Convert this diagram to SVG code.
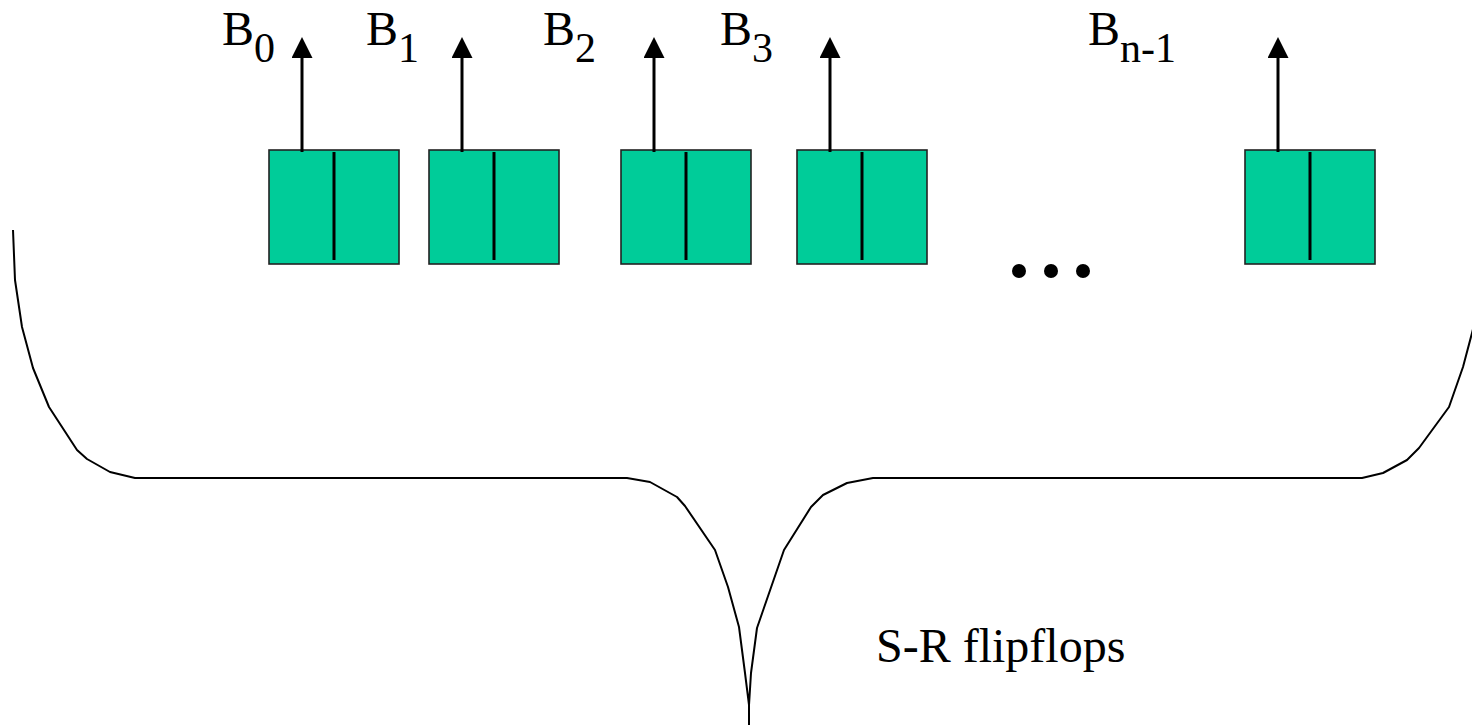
<svg xmlns="http://www.w3.org/2000/svg" width="1472" height="725" viewBox="0 0 1472 725">
<style>
.ff{fill:#00cc99;stroke:#222;stroke-width:1.6}
.div{stroke:#000;stroke-width:3}
.wire{stroke:#000;stroke-width:3}
.lbl{font-family:"Liberation Serif","Times New Roman",serif;font-size:48px;fill:#000}
.sub{font-size:42px}
.brace{fill:none;stroke:#000;stroke-width:2;stroke-linejoin:round}
</style>
<defs>
<marker id="ah" viewBox="0 0 21 21" refX="0" refY="10.5" markerWidth="21" markerHeight="21" markerUnits="userSpaceOnUse" orient="auto">
<polygon points="0,0 21,10.5 0,21" fill="#000"/>
</marker>
</defs>
<rect width="1472" height="725" fill="#fff"/>
<g id="ff0"><rect class="ff" x="269" y="150" width="130" height="114"/><line class="div" x1="334" y1="152" x2="334" y2="260"/></g>
<g id="ff1"><rect class="ff" x="429" y="150" width="130" height="114"/><line class="div" x1="494" y1="152" x2="494" y2="260"/></g>
<g id="ff2"><rect class="ff" x="621" y="150" width="130" height="114"/><line class="div" x1="686" y1="152" x2="686" y2="260"/></g>
<g id="ff3"><rect class="ff" x="797" y="150" width="130" height="114"/><line class="div" x1="862" y1="152" x2="862" y2="260"/></g>
<g id="ffn"><rect class="ff" x="1245" y="150" width="130" height="114"/><line class="div" x1="1310" y1="152" x2="1310" y2="260"/></g>
<g id="connectors">
<line class="wire" x1="302" y1="152" x2="302" y2="58" marker-end="url(#ah)"/>
<line class="wire" x1="462" y1="152" x2="462" y2="58" marker-end="url(#ah)"/>
<line class="wire" x1="654" y1="152" x2="654" y2="58" marker-end="url(#ah)"/>
<line class="wire" x1="830" y1="152" x2="830" y2="58" marker-end="url(#ah)"/>
<line class="wire" x1="1278" y1="152" x2="1278" y2="58" marker-end="url(#ah)"/>
</g>
<g id="labels">
<text class="lbl" x="222" y="45">B<tspan class="sub" dy="17">0</tspan></text>
<text class="lbl" x="366" y="45">B<tspan class="sub" dy="17">1</tspan></text>
<text class="lbl" x="543" y="45">B<tspan class="sub" dy="17">2</tspan></text>
<text class="lbl" x="720" y="45">B<tspan class="sub" dy="17">3</tspan></text>
<text class="lbl" x="1088" y="45">B<tspan class="sub" dy="17">n-1</tspan></text>
<text class="lbl" x="876" y="662">S-R flipflops</text>
</g>
<g id="ellipsis">
<circle cx="1019" cy="271" r="7"/>
<circle cx="1051" cy="271" r="7"/>
<circle cx="1083" cy="271" r="7"/>
</g>
<g id="brace">
<path class="brace" d="M13,230 L15,280 L22,327 L33,368 L49,407 L77,450 L87,459 L110,472 L135,478 L627,478 L650,482 L677,497 L685,506 L715,550 L728,587 L739,627 L745,673 L749,705 L749,725 M749,705 L751,673 L757,628 L784,550 L811,507 L823,495 L847,483 L873,478 L1362,478 L1383,473 L1407,460 L1419,448 L1449,407 L1463,367 L1472,333 L1476,318"/>
</g>
</svg>
